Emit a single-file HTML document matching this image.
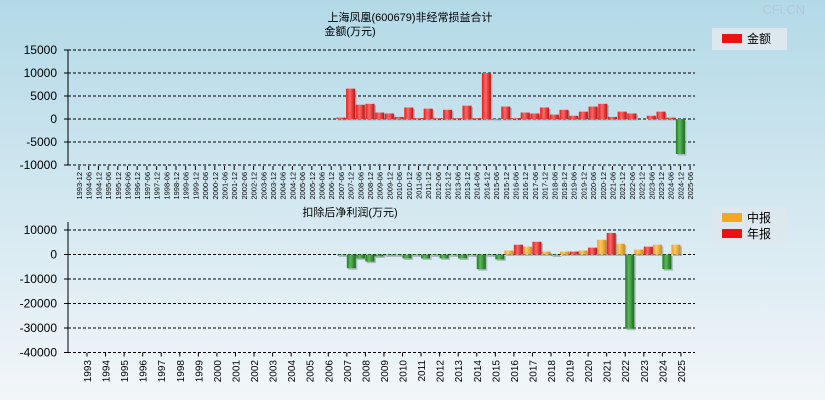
<!DOCTYPE html>
<html><head><meta charset="utf-8"><style>
html,body{margin:0;padding:0}
body{width:825px;height:400px;overflow:hidden;font-family:"Liberation Sans","Noto Sans CJK SC",sans-serif}
</style></head><body>
<svg id="c" width="825" height="400" xmlns="http://www.w3.org/2000/svg">
<defs>
<linearGradient id="bg" x1="0" y1="0" x2="0" y2="1"><stop offset="0" stop-color="#b3d9e7"/><stop offset="1" stop-color="#f2f6f9"/></linearGradient>
<linearGradient id="gr" x1="0" x2="1"><stop offset="0" stop-color="#e81818"/><stop offset="0.4" stop-color="#ff6a6a"/><stop offset="1" stop-color="#c01010"/></linearGradient>
<linearGradient id="gg" x1="0" x2="1"><stop offset="0" stop-color="#1f7d1f"/><stop offset="0.4" stop-color="#5cb85c"/><stop offset="1" stop-color="#1a6a1a"/></linearGradient>
<linearGradient id="go" x1="0" x2="1"><stop offset="0" stop-color="#f0a020"/><stop offset="0.4" stop-color="#ffc860"/><stop offset="1" stop-color="#d08a10"/></linearGradient>
</defs>
<rect width="825" height="400" fill="url(#bg)"/>
<text x="805" y="14" font-size="13" fill="#b8c8d0" text-anchor="end">CFi.CN</text>
<text x="410" y="21" font-size="11" text-anchor="middle">上海凤凰(600679)非经常损益合计</text>
<text x="350" y="35" font-size="11" text-anchor="middle">金额(万元)</text>
<text x="350" y="216" font-size="11" text-anchor="middle">扣除后净利润(万元)</text>
<g>
<rect x="712" y="28" width="75" height="22" fill="#dde7ee"/>
<rect x="722" y="34" width="20" height="9" fill="#ee1111"/>
<text x="747" y="43" font-size="12">金额</text>
</g>
<g>
<rect x="712" y="207" width="75" height="38" fill="#dde7ee"/>
<rect x="722" y="213" width="20" height="9" fill="#f5a623"/>
<text x="747" y="222" font-size="12">中报</text>
<rect x="722" y="229" width="20" height="9" fill="#ee1111"/>
<text x="747" y="238" font-size="12">年报</text>
</g>
<g id="top"></g><g id="bot"></g>
</svg>
<script>
const topTicks=[15000,10000,5000,0,-5000,-10000];
const topPeriods=[];for(let y=1993;y<=2025;y++){if(y>1993)topPeriods.push(y+'-06');if(y<2025)topPeriods.push(y+'-12');}
const topStartIndex=27;
const topValues=[300,6600,3100,3300,1400,1200,450,2500,200,2250,200,2000,200,2900,200,10000,-150,2700,200,1400,1200,2500,950,2000,700,1600,2700,3300,450,1600,1200,0,700,1600,300,-7600];
const botTicks=[10000,0,-10000,-20000,-30000,-40000];
const botYears=[];for(let y=1993;y<=2025;y++)botYears.push(String(y));
const botStartYear=2007;
const interimValues=[-300,-1600,-800,-200,-200,-200,-200,-200,-200,1600,3200,1200,1200,1600,6000,4400,2000,4000,4000];
const annualValues=[-5600,-2900,-300,-1600,-1600,-1600,-1600,-6000,-2000,4000,5200,-300,1200,2800,8800,-30300,3200,-6000,null];

const NS='http://www.w3.org/2000/svg';
function mk(p,t,a){const e=document.createElementNS(NS,t);for(const k in a)e.setAttribute(k,a[k]);p.appendChild(e);return e;}
const X0=68,X1=695;
// top chart
const tg=document.getElementById('top');
const tY=v=>119-v*(23/5000);
const tX=i=>79+i*9.7;
topTicks.forEach(t=>{
 const l=mk(tg,'line',{x1:X0,x2:X1,y1:tY(t),y2:tY(t),stroke:'#000','stroke-dasharray':'3,2','stroke-width':1});
 
 
 const tk=mk(tg,'line',{x1:X0-4,x2:X0,y1:tY(t),y2:tY(t),stroke:'#000'});
 
 
 const tx=mk(tg,'text',{x:X0-11,y:tY(t)+4,'font-size':12,'text-anchor':'end'});tx.textContent=t;
 
 
});
const ta=mk(tg,'line',{x1:X0,x2:X0,y1:tY(15000),y2:tY(-10000),stroke:'#000'});


topPeriods.forEach((p,i)=>{
 const x=tX(i);
 const tk=mk(tg,'line',{x1:x,x2:x,y1:166,y2:170,stroke:'#000'});
 
 
 const t=mk(tg,'text',{x:0,y:0,'font-size':7.5,transform:`translate(${x+3},172) rotate(-90)`,'text-anchor':'end'});t.textContent=p;
 
 
});
topValues.forEach((v,k)=>{
 if(!v)return;const i=topStartIndex+k;const x=tX(i)-4.5;
 const y=Math.min(tY(v),tY(0)),h=Math.abs(tY(v)-tY(0));
 const sh=mk(tg,'rect',{x:x+1.5,y:y+1.5,width:9,height:h,fill:'#8a9aa4',opacity:0.6});
 
 
 const r=mk(tg,'rect',{x:x,y:y,width:9,height:h,fill:v<0?'url(#gg)':'url(#gr)'});
 
 
});
// bottom chart
const bg=document.getElementById('bot');
const bY=v=>254.5-v*(24.5/10000);
const bX=i=>87+i*18.56;
botTicks.forEach(t=>{
 const l=mk(bg,'line',{x1:X0,x2:X1,y1:bY(t),y2:bY(t),stroke:'#000','stroke-dasharray':'3,2'});
 
 
 const tk=mk(bg,'line',{x1:X0-4,x2:X0,y1:bY(t),y2:bY(t),stroke:'#000'});
 
 
 const tx=mk(bg,'text',{x:X0-11,y:bY(t)+4,'font-size':12,'text-anchor':'end'});tx.textContent=t;
 
 
});
const ba=mk(bg,'line',{x1:X0,x2:X0,y1:bY(10000)-8,y2:bY(-40000),stroke:'#000'});


botYears.forEach((y,i)=>{
 const x=bX(i);
 const tk=mk(bg,'line',{x1:x,x2:x,y1:bY(-40000),y2:bY(-40000)+4,stroke:'#000'});
 
 
 const t=mk(bg,'text',{x:0,y:0,'font-size':10,transform:`translate(${x+4},360) rotate(-90)`,'text-anchor':'end'});t.textContent=y;
 
 
});
function bar(v,x,col,name){
 if(v===null||v===undefined)return;
 const y=Math.min(bY(v),bY(0)),h=Math.max(1,Math.abs(bY(v)-bY(0)));
 const sh=mk(bg,'rect',{x:x+1.5,y:y+1.5,width:9,height:h,fill:'#8a9aa4',opacity:0.6});
 
 
 const r=mk(bg,'rect',{x:x,y:y,width:9,height:h,fill:v<0?'url(#gg)':col});
 
 
}
const s=botYears.indexOf(String(botStartYear));
interimValues.forEach((v,k)=>bar(v,bX(s+k)-9.5,'url(#go)','bar-interim-'+botYears[s+k]));
annualValues.forEach((v,k)=>bar(v,bX(s+k),'url(#gr)','bar-annual-'+botYears[s+k]));
</script>
</body></html>
